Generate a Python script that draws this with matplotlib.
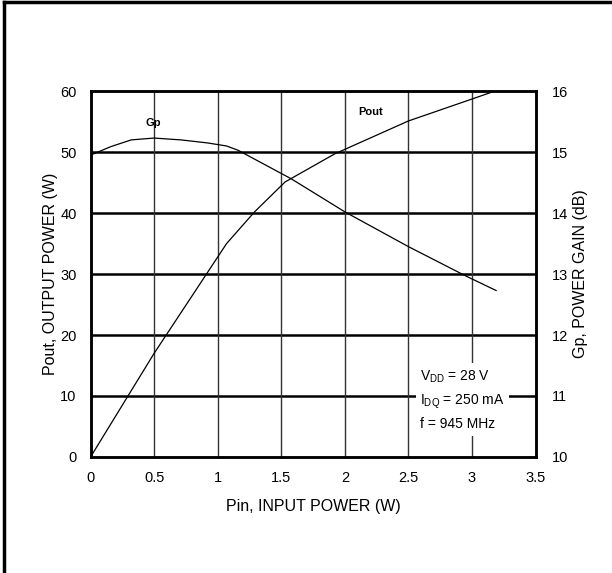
import matplotlib.pyplot as plt
from matplotlib.lines import Line2D

# dados
pin_pout = [0, 0.5, 1.07, 1.29, 1.53, 1.92, 2.5, 3.0, 3.18]
pout = [0, 17, 35, 40.2, 45.1, 49.7, 55.1, 58.7, 60]

pin_gp = [0, 0.16, 0.32, 0.5, 0.71, 0.92, 1.07, 1.16, 1.58, 2.0, 2.5, 2.95, 3.19]
gp = [14.95, 15.09, 15.2, 15.23, 15.2, 15.15, 15.1, 15.03, 14.56, 14.02, 13.45, 12.97, 12.73]

x_ticks = [0, 0.5, 1, 1.5, 2, 2.5, 3, 3.5]
x_labels = ["0", "0.5", "1", "1.5", "2", "2.5", "3", "3.5"]
pout_ticks = [0, 10, 20, 30, 40, 50, 60]
gp_ticks = [10, 11, 12, 13, 14, 15, 16]

plt.rcParams['font.family'] = ['Liberation Sans', 'DejaVu Sans']
plt.rcParams['mathtext.fontset'] = 'custom'
plt.rcParams['mathtext.rm'] = 'Liberation Sans'

fig = plt.figure(figsize=(6.12, 5.73), dpi=100)
ax = fig.add_axes([0.148, 0.2025, 0.727, 0.6385])

# grade
for v in pout_ticks[1:-1]:
    ax.axhline(v, color='black', lw=1.8, zorder=1)
for v in x_ticks[1:-1]:
    ax.axvline(v, color='#333333', lw=1.0, zorder=1)

ax.plot(pin_pout, pout, color='black', lw=0.9, zorder=3)

ax.set_xlim(0, 3.5)
ax.set_ylim(0, 60)
ax.set_xticks(x_ticks)
ax.set_xticklabels(x_labels)
ax.set_yticks(pout_ticks)
ax.tick_params(length=0, labelsize=10.5, pad=10)
ax.set_xlabel("Pin, INPUT POWER (W)", fontsize=11.5, labelpad=10)
ax.set_ylabel("Pout, OUTPUT POWER (W)", fontsize=11.5, labelpad=2)
for s in ax.spines.values():
    s.set_linewidth(1.8)

ax2 = ax.twinx()
ax2.plot(pin_gp, gp, color='black', lw=0.9, zorder=3)
ax2.set_ylim(10, 16)
ax2.set_yticks(gp_ticks)
ax2.tick_params(length=0, labelsize=10.5, pad=12)
ax2.set_ylabel("Gp, POWER GAIN (dB)", fontsize=11.5, labelpad=3)
for s in ax2.spines.values():
    s.set_linewidth(1.8)

ax.text(0.49, 54.8, "Gp", fontsize=8, fontweight='bold', ha='center', va='center', zorder=4)
ax.text(2.2, 56.6, "Pout", fontsize=8, fontweight='bold', ha='center', va='center', zorder=4)

ax2.text(2.59, 10.93,
         "V$_{\\mathrm{DD}}$ = 28 V\nI$_{\\mathrm{DQ}}$ = 250 mA\nf = 945 MHz",
         fontsize=10, ha='left', va='center', linespacing=1.6, zorder=5,
         bbox=dict(facecolor='white', edgecolor='none', pad=3))

# moldura
fig.add_artist(Line2D([0.006, 0.006], [0, 0.997], color='black', lw=2.5,
                      transform=fig.transFigure))
fig.add_artist(Line2D([0.006, 1], [0.997, 0.997], color='black', lw=2.5,
                      transform=fig.transFigure))

fig.savefig("out.png", dpi=100)
